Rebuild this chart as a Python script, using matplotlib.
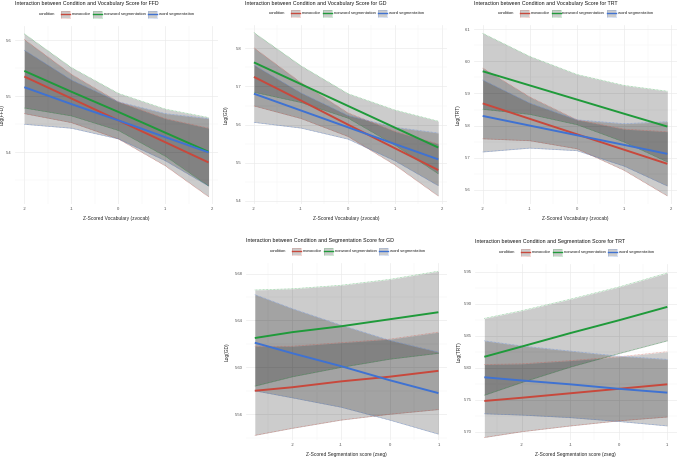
import matplotlib
matplotlib.use("Agg")
import matplotlib.pyplot as plt
from matplotlib.patches import Rectangle
from matplotlib.lines import Line2D
from matplotlib.ticker import MultipleLocator, AutoMinorLocator, FormatStrFormatter

plt.rcParams['font.family'] = ['Liberation Sans', 'DejaVu Sans']
plt.rcParams['axes.unicode_minus'] = False

W, H = 677, 458

conditions = ["monocolor", "nonword segmentation", "word segmentation"]
colors = ["#C8483C", "#1F9A3A", "#3F72D2"]

# x positions where the predictions were read
vocab_x = [-2, -1, 0, 1, 1.92]
seg_x = [-2.77, -2, -1, 0, 1]

# FFD ~ zvocab  (rows: monocolor, nonword, word)
ffd_fit = [[5.535, 5.496, 5.457, 5.418, 5.382],
           [5.545, 5.508, 5.472, 5.435, 5.401],
           [5.516, 5.486, 5.457, 5.427, 5.400]]
ffd_lo = [[5.469, 5.453, 5.424, 5.376, 5.321],
          [5.479, 5.465, 5.439, 5.393, 5.340],
          [5.450, 5.443, 5.424, 5.385, 5.340]]
ffd_hi = [[5.601, 5.539, 5.490, 5.460, 5.443],
          [5.611, 5.551, 5.505, 5.477, 5.462],
          [5.582, 5.529, 5.490, 5.469, 5.460]]

# GD ~ zvocab
gd_fit = [[5.725, 5.663, 5.600, 5.538, 5.481],
          [5.763, 5.706, 5.649, 5.592, 5.540],
          [5.681, 5.637, 5.593, 5.549, 5.509]]
gd_lo = [[5.649, 5.616, 5.569, 5.494, 5.413],
         [5.685, 5.658, 5.617, 5.546, 5.471],
         [5.606, 5.591, 5.562, 5.505, 5.440]]
gd_hi = [[5.801, 5.710, 5.631, 5.582, 5.549],
         [5.841, 5.754, 5.681, 5.638, 5.609],
         [5.756, 5.683, 5.624, 5.593, 5.578]]

# TRT ~ zvocab
trt_fit = [[5.869, 5.821, 5.773, 5.725, 5.681],
           [5.969, 5.925, 5.881, 5.837, 5.797],
           [5.830, 5.800, 5.770, 5.740, 5.712]]
trt_lo = [[5.759, 5.753, 5.728, 5.661, 5.581],
          [5.851, 5.835, 5.803, 5.749, 5.687],
          [5.718, 5.730, 5.722, 5.674, 5.612]]
trt_hi = [[5.979, 5.889, 5.818, 5.789, 5.781],
          [6.087, 6.015, 5.959, 5.925, 5.907],
          [5.942, 5.870, 5.818, 5.806, 5.812]]

# GD ~ zseg
gdseg_fit = [[5.580, 5.583, 5.588, 5.592, 5.597],
             [5.625, 5.630, 5.635, 5.641, 5.647],
             [5.621, 5.612, 5.601, 5.589, 5.578]]
gdseg_lo = [[5.542, 5.548, 5.555, 5.560, 5.564],
            [5.584, 5.592, 5.600, 5.607, 5.612],
            [5.580, 5.574, 5.566, 5.555, 5.543]]
gdseg_hi = [[5.618, 5.618, 5.621, 5.624, 5.630],
            [5.666, 5.667, 5.670, 5.675, 5.682],
            [5.662, 5.650, 5.636, 5.623, 5.613]]

# TRT ~ zseg
trtseg_fit = [[5.748, 5.753, 5.760, 5.767, 5.774],
              [5.817, 5.833, 5.854, 5.874, 5.895],
              [5.785, 5.780, 5.774, 5.767, 5.761]]
trtseg_lo = [[5.691, 5.700, 5.709, 5.717, 5.723],
             [5.757, 5.777, 5.801, 5.822, 5.842],
             [5.728, 5.726, 5.722, 5.716, 5.709]]
trtseg_hi = [[5.805, 5.806, 5.811, 5.817, 5.825],
             [5.877, 5.889, 5.907, 5.926, 5.948],
             [5.842, 5.834, 5.826, 5.818, 5.813]]

vocab_lab = "Z-Scored Vocabulary (zvocab)"
seg_lab = "Z-Scored Segmentation score (zseg)"

# (title, ylabel, xlabel, x, fit, lo, hi, box px [left, top, right, bottom], xlim, ylim, ystep, yfmt, ylab_off px)
panels = [
    ("Interaction between Condition and Vocabulary Score for FFD", "Log(FFD)", vocab_lab,
     vocab_x, ffd_fit, ffd_lo, ffd_hi, [15, 26, 218, 204], (-2.198, 2.121), (5.308, 5.625), 0.1, "%.1f", 10),
    ("Interaction between Condition and Vocabulary Score for GD", "Log(GD)", vocab_lab,
     vocab_x, gd_fit, gd_lo, gd_hi, [245, 25, 447.5, 204], (-2.19, 2.117), (5.392, 5.861), 0.1, "%.1f", 16),
    ("Interaction between Condition and Vocabulary Score for TRT", "Log(TRT)", vocab_lab,
     vocab_x, trt_fit, trt_lo, trt_hi, [473.5, 25, 676.5, 204], (-2.195, 2.115), (5.556, 6.113), 0.1, "%.1f", 12.5),
    ("Interaction between Condition and Segmentation Score for GD", "Log(GD)", seg_lab,
     seg_x, gdseg_fit, gdseg_lo, gdseg_hi, [245.6, 263, 447.5, 440], (-2.959, 1.187), (5.538, 5.689), 0.04, "%.2f", 15.5),
    ("Interaction between Condition and Segmentation Score for TRT", "Log(TRT)", seg_lab,
     seg_x, trtseg_fit, trtseg_lo, trtseg_hi, [475, 264, 676.5, 440], (-2.962, 1.19), (5.687, 5.962), 0.05, "%.2f", 13.5),
]

fig = plt.figure(figsize=(W / 100, H / 100), dpi=100)
fig.patch.set_facecolor("white")


def fx(x):
    return x / W


def fy(y):
    return 1 - y / H


def draw_legend(left, yc):
    fig.text(fx(left + 24), fy(yc), "condition", fontsize=3.1, color="#222222",
             ha="left", va="center")
    key_off = [46, 78, 133]
    for off, lab, col in zip(key_off, conditions, colors):
        x0 = left + off
        fig.add_artist(Rectangle((fx(x0), fy(yc + 3.5)), 9 / W, 7 / H,
                                 transform=fig.transFigure, facecolor="black", alpha=0.2,
                                 edgecolor="none"))
        fig.add_artist(Rectangle((fx(x0), fy(yc + 3.5)), 9 / W, 7 / H,
                                 transform=fig.transFigure, facecolor="none",
                                 edgecolor=col, lw=0.4, linestyle=(0, (1, 1)), alpha=0.7))
        fig.add_artist(Line2D([fx(x0), fx(x0 + 9)], [fy(yc), fy(yc)],
                              transform=fig.transFigure, color=col, lw=1.0))
        fig.text(fx(x0 + 11), fy(yc), lab, fontsize=3.1, color="#222222",
                 ha="left", va="center")


for (title, ylab, xlab, xs, fit, lo, hi, box, xlim, ylim, ystep, yfmt, yoff) in panels:
    l, t, r, b = box
    ax = fig.add_axes([fx(l), fy(b), (r - l) / W, (b - t) / H])
    ax.set_facecolor("white")
    for s in ax.spines.values():
        s.set_visible(False)

    for i, col in enumerate(colors):
        ax.fill_between(xs, lo[i], hi[i], color="black", alpha=0.2, lw=0, zorder=2)
        ax.plot(xs, lo[i], color=col, lw=0.5, linestyle=(0, (1, 1)), alpha=0.6, zorder=3)
        ax.plot(xs, hi[i], color=col, lw=0.5, linestyle=(0, (1, 1)), alpha=0.6, zorder=3)
    for i, col in enumerate(colors):
        ax.plot(xs, fit[i], color=col, lw=1.4, zorder=4, solid_capstyle="butt")

    ax.set_xlim(*xlim)
    ax.set_ylim(*ylim)
    ax.xaxis.set_major_locator(MultipleLocator(1))
    ax.xaxis.set_minor_locator(AutoMinorLocator(2))
    ax.yaxis.set_major_locator(MultipleLocator(ystep))
    ax.yaxis.set_minor_locator(AutoMinorLocator(2))
    ax.xaxis.set_major_formatter(FormatStrFormatter("%d"))
    ax.yaxis.set_major_formatter(FormatStrFormatter(yfmt))
    ax.grid(which="major", color="#EBEBEB", lw=0.5, zorder=0)
    ax.grid(which="minor", color="#F4F4F4", lw=0.3, zorder=0)
    ax.set_axisbelow(True)
    ax.tick_params(which="both", length=0, pad=2.2, labelsize=3.0, labelcolor="#4D4D4D")

    pw, ph = r - l, b - t
    ax.set_xlabel(xlab, fontsize=3.5, color="#222222")
    ax.xaxis.set_label_coords(0.5, -12 / ph)
    ax.set_ylabel(ylab, fontsize=3.5, color="#222222")
    ax.yaxis.set_label_coords(-yoff / pw, 0.5)

    fig.text(fx(l), fy(t - 22), title, fontsize=3.8, color="#111111", ha="left", va="center")
    draw_legend(l, t - 12)

fig.savefig("out.png", dpi=100, facecolor="white")
